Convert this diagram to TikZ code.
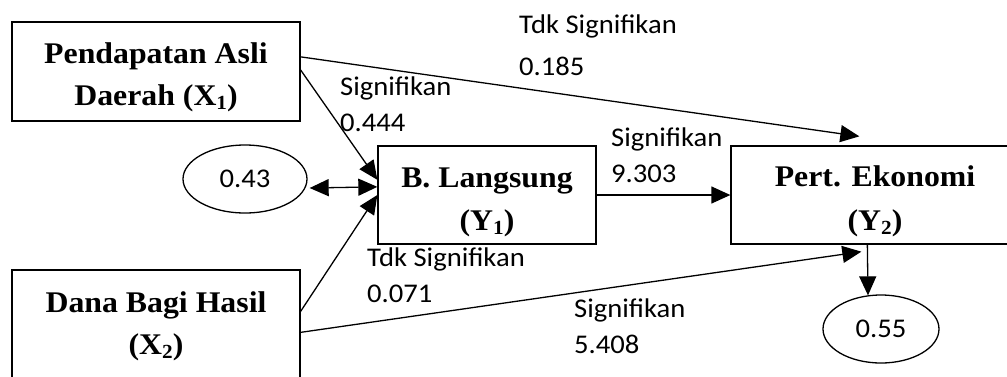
\documentclass[tikz,border=0pt]{standalone}
\usepackage{fontspec}
\setmainfont{Liberation Serif}
\newfontfamily\lblfont[FakeStretch=1.06]{Carlito}
\newfontfamily\boxfont[FakeStretch=1.06]{Liberation Serif}
\usetikzlibrary{arrows.meta,shapes.geometric,calc}
\newcommand\sbx[1]{\raisebox{-4pt}{\fontsize{20}{20}\selectfont #1}}
\tikzset{
  box/.style={draw, line width=1.3pt, inner sep=0pt, align=center, text depth=0pt,
    font=\boxfont\bfseries\fontsize{30}{42}\selectfont},
  ell/.style={draw, ellipse, line width=1.3pt, inner sep=0pt,
    font=\lblfont\fontsize{27}{27}\selectfont},
  lbl/.style={inner sep=0pt, align=left, anchor=base west,
    font=\lblfont\fontsize{27}{36}\selectfont},
  conn/.style={line width=1.3pt, -{Triangle[length=19pt,width=17pt]}},
  dconn/.style={line width=1.3pt, {Triangle[length=19pt,width=17pt]}-{Triangle[length=19pt,width=17pt]}},
}
\begin{document}
\begin{tikzpicture}[x=1pt,y=-1pt]
\useasboundingbox (0,0) rectangle (1007,376);
\fill[white] (0,0) rectangle (1007,376);
% boxes
\node[box, minimum width=288pt, minimum height=99pt, text height=67pt] (x1) at (156,71.5) {Pendapatan Asli\\Daerah (X\sbx{1})};
\node[box, minimum width=288pt, minimum height=150pt, text height=18pt] (x2) at (156,345) {Dana Bagi Hasil\\(X\sbx{2})};
\node[box, minimum width=218pt, minimum height=98pt, text height=70pt] (y1) at (487,195) {B. Langsung\\[1pt](Y\sbx{1})};
\node[box, minimum width=288pt, minimum height=98pt, text height=70pt] (y2) at (875,195) {Pert. Ekonomi\\[2pt](Y\sbx{2})};
% ellipses
\node[ell, minimum width=124pt, minimum height=68pt] (e43) at (245,179) {0.43};
\node[ell, minimum width=116pt, minimum height=68pt] (e55) at (881,329) {0.55};
% connectors
\draw[conn] ($(x1.north east)!0.354!(x1.south east)$) -- ($(y2.north west)+(129,-9)$);
\draw[conn] ($(x1.north east)!0.485!(x1.south east)$) -- ($(y1.north west)!0.347!(y1.south west)$);
\draw[dconn] ($(e43.east)+(2,9)$) -- ($(y1.north west)!0.418!(y1.south west)$);
\draw[conn] ($(x2.north east)+(0,42)$) -- (y1.west);
\draw[conn] ($(x2.north east)+(0,63)$) -- ($(y2.south west)+(131,7)$);
\draw[conn] (y1.east) -- (y2.west);
\draw[conn] ($(y2.south west)+(137,0)$) -- ($(e55.north)+(-13,1)$);
% labels
\node[lbl] (l1) at (519,75) {Tdk Signifikan\\[6pt]0.185};
\node[lbl] (l2) at (340,131) {Signifikan\\0.444};
\node[lbl] (l3) at (611,182) {Signifikan\\9.303};
\node[lbl] (l4) at (367,302) {Tdk Signifikan\\0.071};
\node[lbl] (l5) at (574,353) {Signifikan\\5.408};
\end{tikzpicture}
\end{document}
